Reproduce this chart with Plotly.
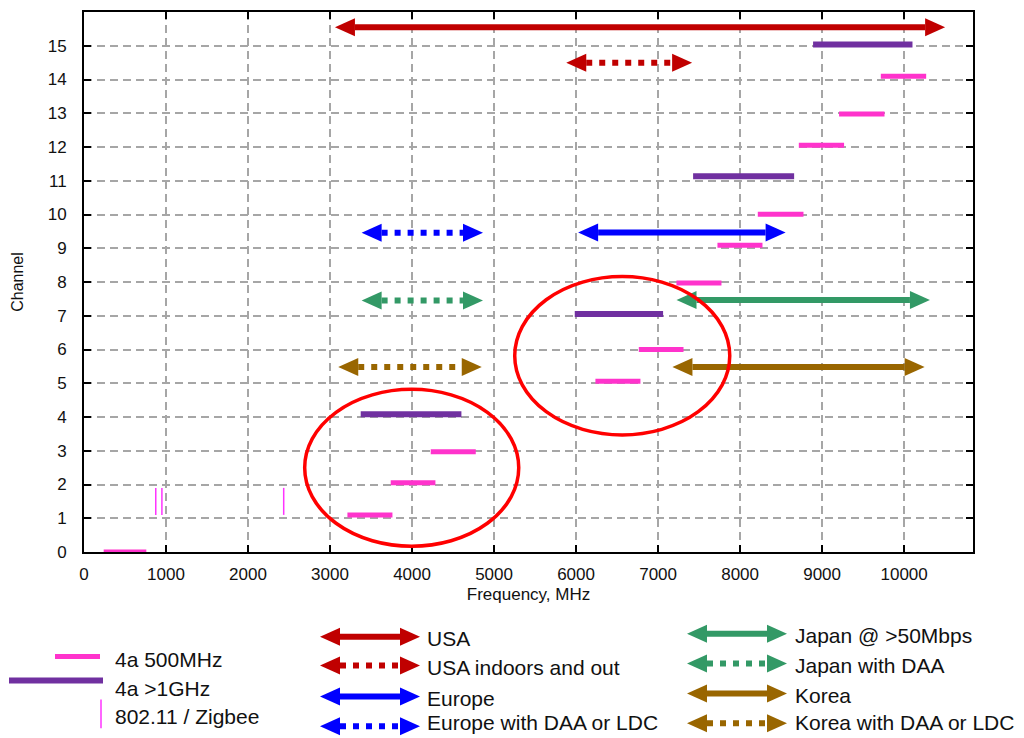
import plotly.graph_objects as go

# ---------------- data ----------------
# 802.15.4a 500 MHz channels: drawn level, start and end frequency (MHz)
pink_levels = [0, 1.10, 2.05, 2.97, 5.06, 6.00, 7.97, 9.09, 10.01, 12.05, 12.98, 14.10]
pink_start = [240, 3212, 3740, 4228, 6236, 6765, 7224, 7724, 8216, 8716, 9207, 9716]
pink_end = [760, 3761, 4285, 4777, 6785, 7310, 7773, 8273, 8773, 9268, 9761, 10269]

# 802.15.4a >1 GHz channels
purple_levels = [4.08, 7.05, 11.13, 15.04]
purple_start = [3374, 5984, 7427, 8890]
purple_end = [4602, 7061, 8659, 10102]

# 802.11 / Zigbee markers
zigbee_freq = [875, 950, 2435]
zigbee_low = [1.1, 1.1, 1.1]
zigbee_high = [1.9, 1.9, 1.9]

# regulatory regions
region_names = ["USA", "USA indoors and out", "Europe", "Europe with DAA or LDC",
                "Japan @ >50Mbps", "Japan with DAA", "Korea", "Korea with DAA or LDC"]
region_start = [3060, 5880, 6025, 3385, 7225, 3385, 7175, 3100]
region_end = [10500, 7415, 8555, 4865, 10315, 4865, 10250, 4850]
region_level = [15.55, 14.50, 9.47, 9.46, 7.47, 7.45, 5.48, 5.48]
region_dotted = [False, True, False, True, False, True, False, True]
region_colors = ["#C00000", "#C00000", "#0000FF", "#0000FF",
                 "#339966", "#339966", "#996600", "#996600"]

x_ticks = list(range(0, 10001, 1000))
y_ticks = list(range(0, 16))

# ---------------- layout constants ----------------
PAGE = 8  # default body margin of the html page
W, H = 1024 - PAGE, 738 - PAGE
ML, MT = 84 - PAGE, 10 - PAGE
MR = W - (973 - PAGE)
MB = H - (552 - PAGE)
X_RANGE = [0, 10840]
Y_RANGE = [0, 16]
PW = W - ML - MR
PH = H - MT - MB
PX_PER_MHZ = PW / (X_RANGE[1] - X_RANGE[0])
HEAD_LEN = 20
HEAD_HALF = 9
SHAFT_W = 6
DOT_DASH = "6px,7px"
PINK = "#FF33CC"
PURPLE = "#7030A0"
ZIG = "#FF33FF"
FONT = "Liberation Sans, Arial, sans-serif"
TXT = "#111111"

fig = go.Figure()
shapes = []
annotations = []

# channel bars
for lvl, s, e in zip(pink_levels, pink_start, pink_end):
    fig.add_trace(go.Scatter(x=[s, e], y=[lvl, lvl], mode="lines",
                             line=dict(color=PINK, width=5), cliponaxis=False,
                             showlegend=False, hoverinfo="skip"))
for lvl, s, e in zip(purple_levels, purple_start, purple_end):
    fig.add_trace(go.Scatter(x=[s, e], y=[lvl, lvl], mode="lines",
                             line=dict(color=PURPLE, width=6), cliponaxis=False,
                             showlegend=False, hoverinfo="skip"))
for f, lo, hi in zip(zigbee_freq, zigbee_low, zigbee_high):
    fig.add_trace(go.Scatter(x=[f, f], y=[lo, hi], mode="lines",
                             line=dict(color=ZIG, width=1.5),
                             showlegend=False, hoverinfo="skip"))

# region arrows
dx = HEAD_LEN / PX_PER_MHZ
head_right = f"M0,0L-{HEAD_LEN},{HEAD_HALF}L-{HEAD_LEN},-{HEAD_HALF}Z"
head_left = f"M0,0L{HEAD_LEN},{HEAD_HALF}L{HEAD_LEN},-{HEAD_HALF}Z"
for name, s, e, lvl, dotted, col in zip(region_names, region_start, region_end,
                                        region_level, region_dotted, region_colors):
    fig.add_trace(go.Scatter(x=[s + dx, e - dx], y=[lvl, lvl], mode="lines", name=name,
                             line=dict(color=col, width=SHAFT_W,
                                       dash=DOT_DASH if dotted else "solid"),
                             showlegend=False, hoverinfo="skip"))
    for anchor, p in ((e, head_right), (s, head_left)):
        shapes.append(dict(type="path", xref="x", yref="y", xsizemode="pixel",
                           ysizemode="pixel", xanchor=anchor, yanchor=lvl, path=p,
                           fillcolor=col, line=dict(width=0)))

# highlight ellipses
shapes.append(dict(type="circle", xref="x", yref="y", x0=2691, x1=5301, y0=0.17, y1=4.82,
                   line=dict(color="#FF0000", width=3.5)))
shapes.append(dict(type="circle", xref="x", yref="y", x0=5252, x1=7874, y0=3.47, y1=8.16,
                   line=dict(color="#FF0000", width=3.5)))


# ---------------- custom legend (reference pixel layout -> paper coords) ----------------
def px2paper(px, py):
    return (px - PAGE - ML) / PW, (H - MB - (py - PAGE)) / PH


def legend_line(x0, x1, y, col, width, dash="solid"):
    a = px2paper(x0, y)
    b = px2paper(x1, y)
    shapes.append(dict(type="line", xref="paper", yref="paper", x0=a[0], x1=b[0],
                       y0=a[1], y1=b[1], line=dict(color=col, width=width, dash=dash)))


def legend_text(x, y, txt):
    p = px2paper(x, y)
    annotations.append(dict(text=txt, x=p[0], y=p[1], xref="paper", yref="paper",
                            xanchor="left", yanchor="middle", showarrow=False,
                            font=dict(family=FONT, size=21, color=TXT)))


def legend_arrow(x0, x1, y, col, dotted):
    legend_line(x0 + HEAD_LEN, x1 - HEAD_LEN, y, col, SHAFT_W,
                DOT_DASH if dotted else "solid")
    for ax, p in ((x1, head_right), (x0, head_left)):
        q = px2paper(ax, y)
        shapes.append(dict(type="path", xref="paper", yref="paper", xsizemode="pixel",
                           ysizemode="pixel", xanchor=q[0], yanchor=q[1], path=p,
                           fillcolor=col, line=dict(width=0)))


legend_line(55, 100, 657, PINK, 5)
legend_text(113, 660, "4a 500MHz")
legend_line(9, 103, 681, PURPLE, 6)
legend_text(113, 689, "4a >1GHz")
a = px2paper(101, 700)
b = px2paper(101, 729)
shapes.append(dict(type="line", xref="paper", yref="paper", x0=a[0], x1=b[0], y0=a[1], y1=b[1],
                   line=dict(color=ZIG, width=1.5)))
legend_text(113, 717, "802.11 / Zigbee")

col_x = [(320, 420, 425), (687, 787, 793)]
row_y = [[637, 666, 697, 727], [634, 664, 694, 724]]
for i, (name, dotted, col) in enumerate(zip(region_names, region_dotted, region_colors)):
    c = 0 if i < 4 else 1
    r = i % 4
    x0, x1, tx = col_x[c]
    y = row_y[c][r]
    legend_arrow(x0, x1, y, col, dotted)
    legend_text(tx, min(y + 2, 723), name)

axis_common = dict(
    showline=True, linecolor="black", linewidth=2, mirror="ticks",
    ticks="inside", ticklen=7, tickwidth=2, tickcolor="black",
    showgrid=True, gridcolor="#A6A6A6", gridwidth=1.5, griddash="8px,5px",
    zeroline=False, tickfont=dict(family=FONT, size=17, color=TXT),
)

fig.update_layout(
    width=W, height=H,
    margin=dict(l=ML, r=MR, t=MT, b=MB),
    paper_bgcolor="white", plot_bgcolor="white",
    showlegend=False,
    shapes=shapes, annotations=annotations,
    xaxis=dict(range=X_RANGE, tickvals=x_ticks, ticktext=[str(v) for v in x_ticks],
               ticklabelstandoff=6,
               title=dict(text="Frequency, MHz", standoff=5,
                          font=dict(family=FONT, size=17, color=TXT)),
               **axis_common),
    yaxis=dict(range=Y_RANGE, tickvals=y_ticks, ticktext=[str(v) for v in y_ticks],
               ticklabelstandoff=12,
               title=dict(text="Channel", standoff=20,
                          font=dict(family=FONT, size=16, color=TXT)),
               **axis_common),
)

fig.write_html("out.html")
